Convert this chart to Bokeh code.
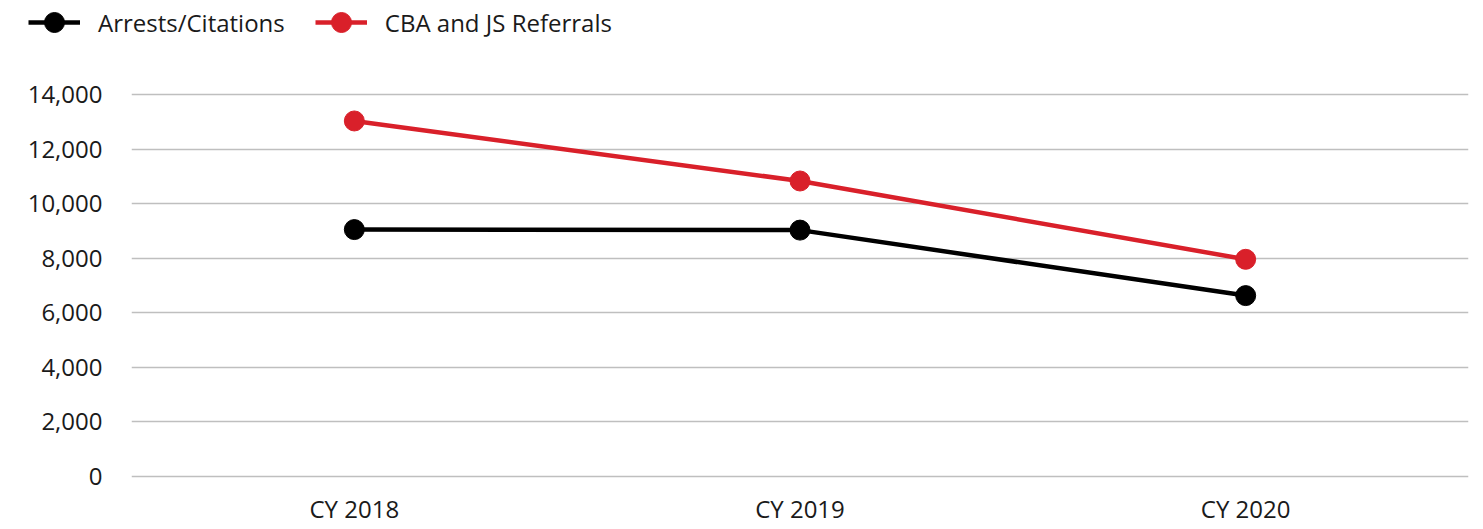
from bokeh.plotting import figure
from bokeh.layouts import column
from bokeh.models import Range1d, FactorRange, Legend, LegendItem, NumeralTickFormatter, FixedTicker
from bokeh.embed import file_html
from bokeh.resources import INLINE

years = ["CY 2018", "CY 2019", "CY 2020"]
arrests = [9050, 9030, 6630]
referrals = [13030, 10830, 7960]
y_ticks = [0, 2000, 4000, 6000, 8000, 10000, 12000, 14000]
series_names = ["Arrests/Citations", "CBA and JS Referrals"]

RED = "#d9202a"
BLACK = "#000000"
FONT = "Open Sans"
W = 1482

# main chart
p = figure(width=W, height=484, x_range=FactorRange(*years, range_padding=0),
           y_range=Range1d(-110, 14110), output_backend="svg", toolbar_location=None,
           min_border_left=131, min_border_right=14, min_border_top=47, min_border_bottom=49)
p.outline_line_color = None
p.frame_align = False

l1 = p.line(years, arrests, line_color=BLACK, line_width=4.5)
s1 = p.scatter(years, arrests, size=20, fill_color=BLACK, line_color=BLACK)
l2 = p.line(years, referrals, line_color=RED, line_width=4.5)
s2 = p.scatter(years, referrals, size=20, fill_color=RED, line_color=RED)

p.yaxis.ticker = FixedTicker(ticks=y_ticks)
p.yaxis.formatter = NumeralTickFormatter(format="0,0")
for ax in (p.xaxis[0], p.yaxis[0]):
    ax.axis_line_color = None
    ax.major_tick_line_color = None
    ax.minor_tick_line_color = None
    ax.major_label_text_font = FONT
    ax.major_label_text_font_size = "24px"
    ax.major_label_text_color = "#1a1a1a"
p.yaxis.major_label_standoff = 23
p.xaxis.major_label_standoff = 6

p.xgrid.grid_line_color = None
p.ygrid.grid_line_color = "#bfbfbf"
p.ygrid.grid_line_width = 1.5

# legend strip on top (its renderers use the same data, outside its visible range)
lg = figure(width=W, height=44, x_range=FactorRange(*years), y_range=Range1d(-2, -1),
            output_backend="svg", toolbar_location=None,
            x_axis_location=None, y_axis_location=None,
            min_border_left=0, min_border_right=0, min_border_top=0, min_border_bottom=0)
lg.outline_line_color = None
lg.grid.visible = False
lg.frame_align = False
k1 = lg.line(years, arrests, line_color=BLACK, line_width=4.5)
k1s = lg.scatter(years, arrests, size=20, fill_color=BLACK, line_color=BLACK)
k2 = lg.line(years, referrals, line_color=RED, line_width=4.5)
k2s = lg.scatter(years, referrals, size=20, fill_color=RED, line_color=RED)

legend = Legend(items=[LegendItem(label=series_names[0], renderers=[k1, k1s]),
                       LegendItem(label=series_names[1], renderers=[k2, k2s])],
                orientation="horizontal", location="center_left",
                glyph_width=52, glyph_height=50, label_standoff=18, spacing=30,
                padding=0, margin=28, border_line_color=None, background_fill_alpha=0,
                label_text_font=FONT, label_text_font_size="24px", label_text_color="#1a1a1a")
lg.add_layout(legend, "center")

open("out.html", "w").write(file_html(column(lg, p, spacing=0), INLINE))
